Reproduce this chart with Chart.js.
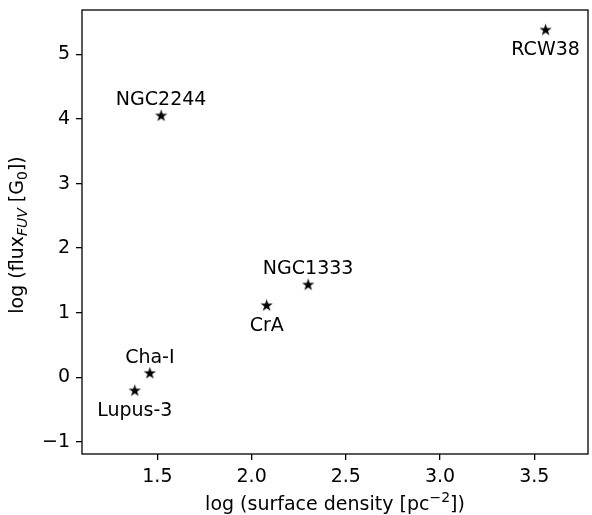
<!DOCTYPE html>
<html>
<head>
<meta charset="utf-8">
<script src="https://cdn.jsdelivr.net/npm/chart.js@4"></script>
<style>
  html, body { margin: 0; padding: 0; background: #fff; }
  canvas { display: block; }
</style>
</head>
<body>
<canvas id="graph" width="592" height="515"></canvas>
<script>
// ============================================
// Données
// ============================================
var regions = ["Lupus-3", "Cha-I", "NGC2244", "CrA", "NGC1333", "RCW38"];
var surfaceDensity = [1.38, 1.46, 1.52, 2.08, 2.30, 3.56];   // log (pc^-2)
var fluxFUV = [-0.21, 0.06, 4.05, 1.11, 1.43, 5.38];         // log (G0)
var labelSide = ["below", "above", "above", "below", "above", "below"];

var xTicks = [1.5, 2.0, 2.5, 3.0, 3.5];
var yTicks = [-1, 0, 1, 2, 3, 4, 5];

var FONT = "DejaVu Sans";
var FONT_SIZE = 19;

// Marqueur étoile (façon matplotlib "*")
function creerEtoile(r) {
    var size = Math.ceil(r * 2 + 2);
    var c = document.createElement("canvas");
    c.width = size;
    c.height = size;
    var g = c.getContext("2d");
    var cx = size / 2, cy = size / 2;
    g.beginPath();
    for (var i = 0; i < 10; i++) {
        var rad = (i % 2 === 0) ? r : r * 0.382;
        var a = -Math.PI / 2 + i * Math.PI / 5;
        var px = cx + rad * Math.cos(a);
        var py = cy + rad * Math.sin(a);
        if (i === 0) g.moveTo(px, py); else g.lineTo(px, py);
    }
    g.closePath();
    g.fillStyle = "#000";
    g.fill();
    return c;
}

// Texte avec indices / exposants
function dessinerMorceaux(ctx, morceaux, x, y, angle) {
    ctx.save();
    ctx.translate(x, y);
    ctx.rotate(angle);
    var total = 0;
    morceaux.forEach(function (m) {
        ctx.font = (m.italic ? "italic " : "") + m.size + "px '" + FONT + "'";
        m.w = ctx.measureText(m.text).width;
        total += m.w;
    });
    var pos = -total / 2;
    ctx.fillStyle = "#000";
    ctx.textBaseline = "alphabetic";
    ctx.textAlign = "left";
    morceaux.forEach(function (m) {
        ctx.font = (m.italic ? "italic " : "") + m.size + "px '" + FONT + "'";
        ctx.fillText(m.text, pos, m.dy || 0);
        pos += m.w;
    });
    ctx.restore();
}

var cadreEtTitres = {
    id: "cadreEtTitres",
    afterDraw: function (chart) {
        var ctx = chart.ctx;
        var a = chart.chartArea;
        ctx.save();
        ctx.strokeStyle = "#000";
        ctx.lineWidth = 1.3;
        ctx.strokeRect(a.left, a.top, a.right - a.left, a.bottom - a.top);
        ctx.restore();

        var s = FONT_SIZE, p = 14;
        dessinerMorceaux(ctx, [
            { text: "log (surface density [pc", size: s },
            { text: "\u22122", size: p, dy: -8 },
            { text: "])", size: s }
        ], 335, 509.5, 0);

        dessinerMorceaux(ctx, [
            { text: "log (flux", size: s },
            { text: "FUV", size: p, italic: true, dy: 4 },
            { text: " [G", size: s },
            { text: "0", size: p, dy: 4 },
            { text: "])", size: s }
        ], 23, 235, -Math.PI / 2);
    }
};

var etiquettes = {
    id: "etiquettes",
    afterDatasetsDraw: function (chart) {
        var ctx = chart.ctx;
        var meta = chart.getDatasetMeta(0);
        ctx.save();
        ctx.font = FONT_SIZE + "px '" + FONT + "'";
        ctx.fillStyle = "#000";
        ctx.textAlign = "center";
        ctx.textBaseline = "alphabetic";
        meta.data.forEach(function (pt, i) {
            var y = labelSide[i] === "above" ? pt.y - 10.5 : pt.y + 25;
            ctx.fillText(regions[i], pt.x, y);
        });
        ctx.restore();
    }
};

var points = surfaceDensity.map(function (x, i) {
    return { x: x, y: fluxFUV[i] };
});

var etoile = creerEtoile(6.5);

new Chart(document.getElementById("graph").getContext("2d"), {
    type: "scatter",
    data: {
        datasets: [{
            data: points,
            pointStyle: etoile,
            pointRadius: 7,
            pointHoverRadius: 7
        }]
    },
    options: {
        responsive: false,
        animation: false,
        devicePixelRatio: 1,
        layout: { autoPadding: false, padding: { top: 10, right: 4, left: 0, bottom: 0 } },
        plugins: {
            legend: { display: false },
            tooltip: { enabled: false }
        },
        scales: {
            x: {
                type: "linear",
                min: 1.10,
                max: 3.785,
                afterFit: function (s) {
                    s.height = 61;
                    s.paddingLeft = 0;
                    s.paddingRight = 0;
                },
                afterBuildTicks: function (s) {
                    s.ticks = xTicks.map(function (v) { return { value: v }; });
                },
                ticks: {
                    callback: function (v) { return v.toFixed(1); },
                    font: { family: FONT, size: FONT_SIZE },
                    color: "#000",
                    padding: 6,
                    maxRotation: 0,
                    autoSkip: false
                },
                grid: { drawOnChartArea: false, tickLength: 6, color: "#000", lineWidth: 1.3 },
                border: { display: false }
            },
            y: {
                type: "linear",
                min: -1.19,
                max: 5.69,
                afterFit: function (s) {
                    s.width = 82;
                    s.paddingTop = 0;
                    s.paddingBottom = 0;
                },
                afterBuildTicks: function (s) {
                    s.ticks = yTicks.map(function (v) { return { value: v }; });
                },
                ticks: {
                    callback: function (v) { return v < 0 ? "\u2212" + Math.abs(v) : String(v); },
                    font: { family: FONT, size: FONT_SIZE },
                    color: "#000",
                    padding: 6,
                    autoSkip: false
                },
                grid: { drawOnChartArea: false, tickLength: 6, color: "#000", lineWidth: 1.3 },
                border: { display: false }
            }
        }
    },
    plugins: [cadreEtTitres, etiquettes]
});
</script>
</body>
</html>
